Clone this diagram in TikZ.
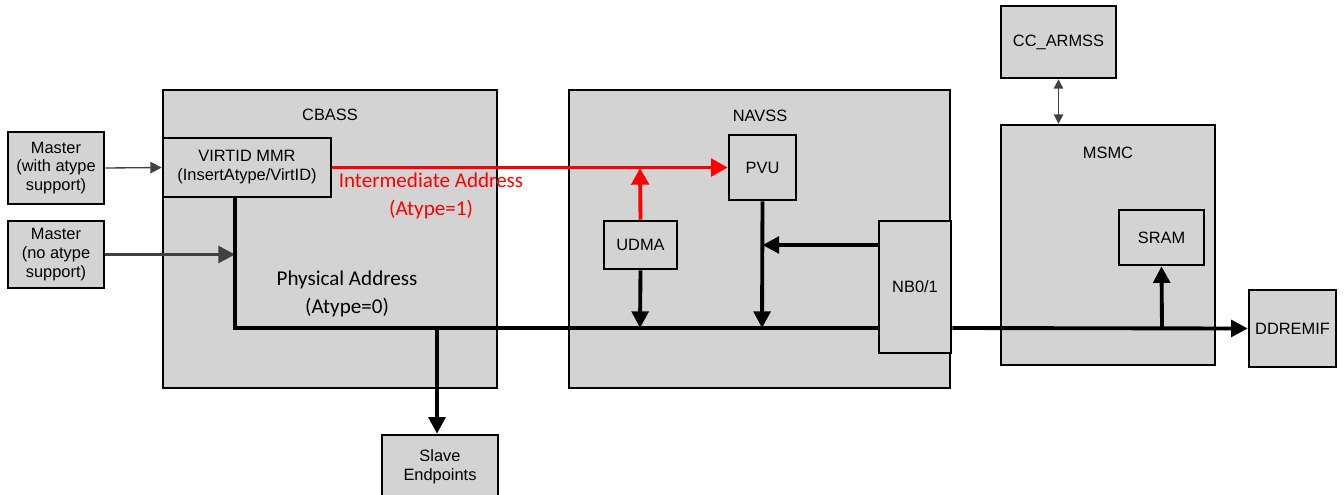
\documentclass[tikz,border=0pt]{standalone}
\usepackage{fontspec}
\setmainfont{Liberation Sans}
\newfontfamily\calibri{Carlito}
\usetikzlibrary{arrows.meta,positioning}

\definecolor{boxgray}{RGB}{211,211,211}
\definecolor{linegray}{RGB}{64,64,64}

\tikzset{
	block/.style={draw=black, line width=1.9pt, fill=boxgray, align=center,
		font=\fontsize{12.3}{14.2}\selectfont, inner sep=0pt},
	title/.style={font=\fontsize{12.3}{14.2}\selectfont},
	bus/.style={line width=2.9pt, black, -{Triangle[length=12.5pt,width=12.5pt]}},
	redbus/.style={line width=2.9pt, red, -{Triangle[length=12.5pt,width=13pt]}},
	thinarrow/.style={line width=1pt, linegray, -{Triangle[length=8.5pt,width=8.5pt]}},
	grayarrow/.style={line width=2.7pt, linegray, -{Triangle[length=12.5pt,width=12.5pt]}},
	note/.style={font=\calibri\fontsize{15.8}{20.5}\selectfont, align=center}
}

\begin{document}
\begin{tikzpicture}[x=0.75pt, y=-0.75pt]
		\useasboundingbox (0,0) rectangle (1344,494);
		% containers
		\node (cbass) [block, minimum width=250.5pt, minimum height=223.5pt] at (330,239) {};
		\node (navss) [block, minimum width=285.75pt, minimum height=223.5pt] at (759.5,239) {};
		\node (msmc) [block, minimum width=160.5pt, minimum height=180pt] at (1108,245) {};
		\node [title] at (330,115) {CBASS};
		\node [title] at (760,116) {NAVSS};
		\node [title] at (1108,153) {MSMC};
		% blocks
		\node (m1) [block, minimum width=72pt, minimum height=54pt] at (56,168) {Master\\(with atype\\support)};
		\node (m2) [block, minimum width=72pt, minimum height=50pt] at (56,254.5) {Master\\(no atype\\support)};
		\node (virtid) [block, minimum width=126pt, minimum height=44.25pt] at (247,167.5) {VIRTID MMR\\(InsertAtype/VirtID)};
		\node (slave) [block, minimum width=87pt, minimum height=48pt] at (440,467) {Slave\\Endpoints};
		\node (pvu) [block, minimum width=50.25pt, minimum height=48.75pt] at (762.5,167.5) {PVU};
		\node (udma) [block, minimum width=54.75pt, minimum height=36pt] at (640.5,245) {UDMA};
		\node (nb) [block, minimum width=54pt, minimum height=99pt] at (915,287) {NB0/1};
		\node (arm) [block, minimum width=86.25pt, minimum height=54pt] at (1058.5,42) {CC\_ARMSS};
		\node (sram) [block, minimum width=63.75pt, minimum height=41.25pt] at (1161.5,237.5) {SRAM};
		\node (ddr) [block, minimum width=65.25pt, minimum height=57.75pt] at (1292.5,328.5) {DDREMIF};
		% bus points
		\coordinate (top) at (235,197);
		\coordinate (corner) at (235,328);
		\coordinate (jslave) at (437,328);
		\coordinate (judma) at (640,328);
		\coordinate (jpvu) at (762,328);
		\coordinate (jsram) at (1162,328);
		\coordinate (jred) at (640,168);
		% connectors
		\draw [thinarrow] (m1.east) -- (virtid.west);
		\draw [grayarrow] (m2.east) -- (m2.east -| corner);
		\draw [line width=2.9pt] (top) -- (corner) -- (corner -| nb.west);
		\draw [bus] (jslave) -- (slave.north -| jslave);
		\draw [bus] (udma.south) -- (judma);
		\draw [bus] (pvu.south) -- (jpvu);
		\draw [bus] (nb.west |- udma) -- (pvu.south |- udma);
		\draw [bus] (corner -| nb.east) -- (ddr.west);
		\draw [bus] (jsram) -- (sram.south);
		\draw [redbus] (virtid.east) -- (pvu.west);
		\draw [redbus] (udma.north) -- (jred);
		\draw [thinarrow, {Triangle[length=7pt,width=7pt]}-{Triangle[length=7pt,width=7pt]}] (arm.south) -- (arm.south |- msmc.north);
		% labels
		\node [note, red] at (431,196) {Intermediate Address\\(Atype=1)};
		\node [note] at (347,294) {Physical Address\\(Atype=0)};
		\end{tikzpicture}
\end{document}
